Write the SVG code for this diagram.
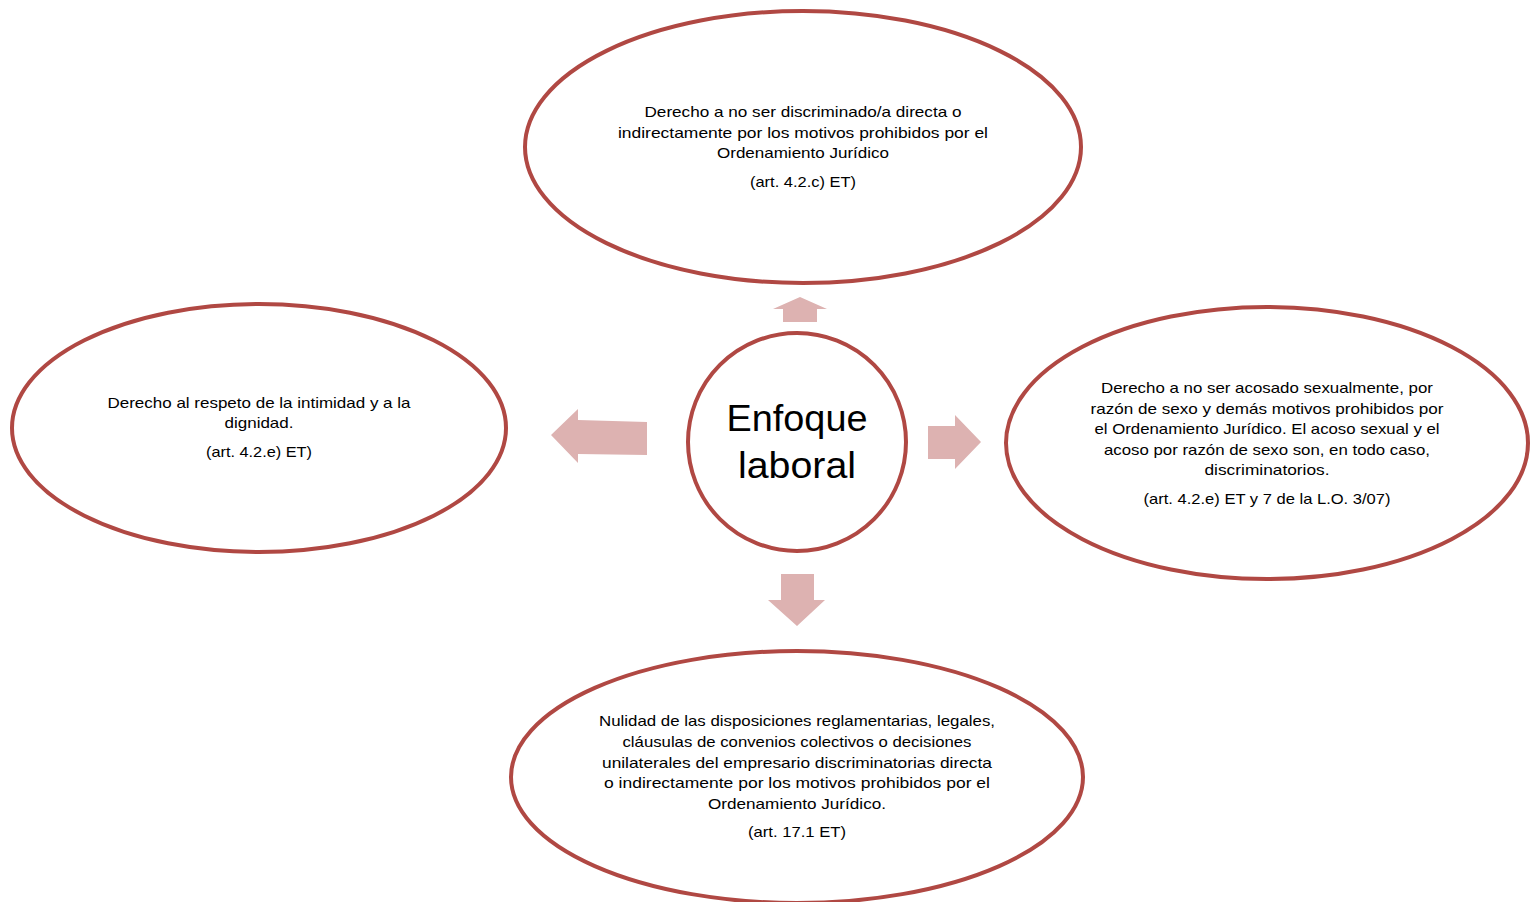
<svg xmlns="http://www.w3.org/2000/svg" width="1531" height="902" viewBox="0 0 1531 902">
<style>
.node{fill:#ffffff;stroke:#b04843;stroke-width:4}
.arr{fill:#ddb2b1}
.t{font-family:"Liberation Sans",Arial,sans-serif;font-size:14.5px;fill:#000;text-anchor:middle}
.c{font-family:"Liberation Sans",Arial,sans-serif;font-size:37px;fill:#000;text-anchor:middle}
</style>
<rect width="1531" height="902" fill="#ffffff"/>
<g id="connectors">
<polygon class="arr" points="783,322 783,309 773,309 800,297 827,309 817,309 817,322"/>
<polygon class="arr" points="647,422 578,420 578,409 551,435 578,463 578,454 647,455"/>
<polygon class="arr" points="928,426 955,426 955,415 981,442 955,469 955,459 928,459"/>
<polygon class="arr" points="781,574 814,574 814,600 825,600 797,626 768,600 781,600"/>
</g>
<g id="node-top">
<ellipse class="node" cx="803" cy="147" rx="278" ry="136"/>
<text class="t" x="803" y="117" textLength="317" lengthAdjust="spacingAndGlyphs">Derecho a no ser discriminado/a directa o</text>
<text class="t" x="803" y="138" textLength="370" lengthAdjust="spacingAndGlyphs">indirectamente por los motivos prohibidos por el</text>
<text class="t" x="803" y="158" textLength="172" lengthAdjust="spacingAndGlyphs">Ordenamiento Jurídico</text>
<text class="t" x="803" y="187" textLength="106" lengthAdjust="spacingAndGlyphs">(art. 4.2.c) ET)</text>
</g>
<g id="node-left">
<ellipse class="node" cx="259" cy="428" rx="247" ry="124"/>
<text class="t" x="259" y="408" textLength="303" lengthAdjust="spacingAndGlyphs">Derecho al respeto de la intimidad y a la</text>
<text class="t" x="259" y="428" textLength="69" lengthAdjust="spacingAndGlyphs">dignidad.</text>
<text class="t" x="259" y="457" textLength="106" lengthAdjust="spacingAndGlyphs">(art. 4.2.e) ET)</text>
</g>
<g id="node-right">
<ellipse class="node" cx="1267" cy="443" rx="261" ry="136"/>
<text class="t" x="1267" y="393" textLength="332" lengthAdjust="spacingAndGlyphs">Derecho a no ser acosado sexualmente, por</text>
<text class="t" x="1267" y="414" textLength="353" lengthAdjust="spacingAndGlyphs">razón de sexo y demás motivos prohibidos por</text>
<text class="t" x="1267" y="434" textLength="345" lengthAdjust="spacingAndGlyphs">el Ordenamiento Jurídico. El acoso sexual y el</text>
<text class="t" x="1267" y="455" textLength="326" lengthAdjust="spacingAndGlyphs">acoso por razón de sexo son, en todo caso,</text>
<text class="t" x="1267" y="475" textLength="125" lengthAdjust="spacingAndGlyphs">discriminatorios.</text>
<text class="t" x="1267" y="504" textLength="247" lengthAdjust="spacingAndGlyphs">(art. 4.2.e) ET y 7 de la L.O. 3/07)</text>
</g>
<g id="node-bottom">
<ellipse class="node" cx="797" cy="777" rx="286" ry="126"/>
<text class="t" x="797" y="726" textLength="396" lengthAdjust="spacingAndGlyphs">Nulidad de las disposiciones reglamentarias, legales,</text>
<text class="t" x="797" y="747" textLength="349" lengthAdjust="spacingAndGlyphs">cláusulas de convenios colectivos o decisiones</text>
<text class="t" x="797" y="768" textLength="390" lengthAdjust="spacingAndGlyphs">unilaterales del empresario discriminatorias directa</text>
<text class="t" x="797" y="788" textLength="386" lengthAdjust="spacingAndGlyphs">o indirectamente por los motivos prohibidos por el</text>
<text class="t" x="797" y="809" textLength="178" lengthAdjust="spacingAndGlyphs">Ordenamiento Jurídico.</text>
<text class="t" x="797" y="837" textLength="98" lengthAdjust="spacingAndGlyphs">(art. 17.1 ET)</text>
</g>
<g id="node-center">
<circle class="node" cx="797" cy="442" r="109"/>
<text class="c" x="797" y="431" textLength="141" lengthAdjust="spacingAndGlyphs">Enfoque</text>
<text class="c" x="797" y="478" textLength="118" lengthAdjust="spacingAndGlyphs">laboral</text>
</g>
</svg>
